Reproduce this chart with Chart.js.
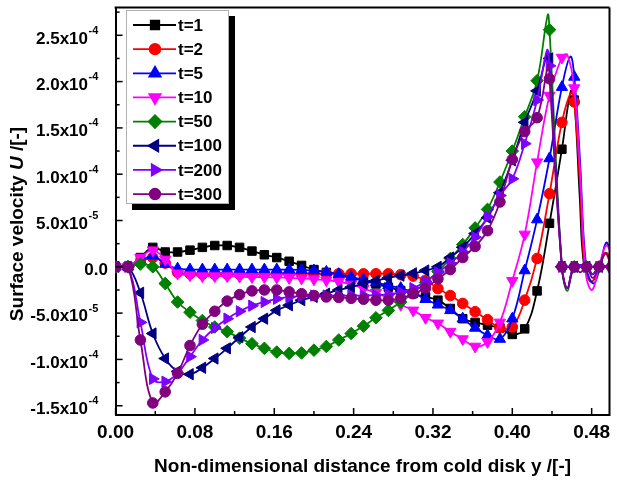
<!DOCTYPE html>
<html>
<head>
<meta charset="utf-8">
<script src="https://cdn.jsdelivr.net/npm/chart.js@4/dist/chart.umd.min.js"></script>
<style>
  html, body { margin: 0; padding: 0; background: #fff; }
  #wrap { width: 617px; height: 482px; position: relative; }
</style>
</head>
<body>
<div id="wrap"><canvas id="canvas"></canvas></div>
<script>
// values are in units of 1e-5
const UNIT = 1e-5;

// x positions of the plotted (marked) samples:
const xGrid = [0, 0.0125, 0.025, 0.0375, 0.05, 0.0625, 0.075, 0.0875, 0.1, 0.1125,
  0.125, 0.1375, 0.15, 0.1625, 0.175, 0.1875, 0.2, 0.2125, 0.225, 0.2375,
  0.25, 0.2625, 0.275, 0.2875, 0.3, 0.3125, 0.325, 0.3375, 0.35, 0.3625,
  0.375, 0.3875, 0.4, 0.4125, 0.425, 0.4375, 0.45, 0.4625, 0.475, 0.4875, 0.5];

// marked samples:
const t1 = [0, 0, 1.0, 2.1, 1.6, 1.6, 1.8, 2.1, 2.3, 2.3, 2.1, 1.7, 1.3, 1.0, 0.6,
  0.15, -0.3, -0.6, -0.9, -1.2, -1.5, -1.85, -2.2, -2.55, -2.9, -3.25, -3.6, -4.5,
  -5.6, -6.0, -6.3, -6.6, -7.3, -6.7, -2.6, 4.7, 12.7, 18.0];
const t2 = [0, 0, 0.5, 1.0, 0.4, -0.6, -0.75, -0.8, -0.8, -0.8, -0.8, -0.8, -0.8, -0.8,
  -0.75, -0.75, -0.75, -0.75, -0.75, -0.75, -0.75, -0.75, -0.75, -0.85, -1.0, -1.45,
  -2.35, -3.1, -3.95, -4.85, -5.7, -6.6, -6.5, -3.6, 0.9, 7.9, 15.6, 17.8];
const t5 = [0, 0, 0.6, 1.2, 0.3, -0.2, -0.3, -0.3, -0.3, -0.3, -0.3, -0.3, -0.3, -0.3,
  -0.3, -0.35, -0.4, -0.55, -0.8, -1.1, -1.4, -1.7, -2.0, -2.3, -2.8, -3.5, -4.1,
  -4.7, -5.6, -6.6, -7.4, -7.8, -5.6, -0.4, 5.1, 11.7, 19.4, 20.5];
const t10 = [0, 0, 1.0, 1.8, 0.8, -0.7, -0.9, -1.0, -1.0, -1.0, -1.05, -1.1, -1.1, -1.15,
  -1.2, -1.25, -1.35, -1.45, -1.6, -1.9, -2.35, -2.8, -3.4, -4.1, -4.7, -5.5, -6.1,
  -7.0, -7.8, -8.6, -8.1, -6.0, -1.5, 3.5, 11.3, 18.5, 22.6, 19.3];
const t50 = [0, 0, 0.3, 0.0, -1.8, -3.8, -4.9, -5.8, -6.5, -7.0, -7.7, -8.3, -8.8, -9.2,
  -9.35, -9.3, -9.0, -8.6, -7.9, -7.2, -6.4, -5.5, -4.7, -3.8, -2.8, -1.7, -0.5, 0.9,
  2.4, 4.2, 6.2, 9.15, 12.5, 16.2, 20.1, 25.6, 0, 0, 0, 0, 0];
const t100 = [0, 0, -2.8, -7.2, -9.9, -11.3, -11.6, -10.9, -9.9, -8.8, -7.6, -6.5, -5.6,
  -4.7, -4.15, -3.6, -3.25, -2.9, -2.5, -2.2, -1.8, -1.5, -1.2, -0.95, -0.7, -0.4, 0.0,
  1.0, 2.1, 3.6, 5.3, 8.0, 11.5, 15.6, 19.0, 22.5, 0, 0, 0, 0, 0];
const t200 = [0, 0, -6.0, -12.1, -12.4, -11.5, -9.7, -7.9, -6.6, -5.6, -4.8, -4.2, -3.8,
  -3.45, -3.25, -3.15, -3.1, -3.1, -3.1, -3.1, -3.1, -3.05, -2.95, -2.75, -2.3, -1.6,
  -0.6, 0.4, 1.6, 3.2, 5.4, 7.7, 9.5, 13.3, 18.0, 21.7, 0, 0, 0, 0, 0];
const t300 = [0, 0, -7.9, -14.7, -13.5, -11.5, -8.5, -6.2, -4.8, -3.7, -3.0, -2.6, -2.5,
  -2.5, -2.7, -2.9, -3.1, -3.25, -3.3, -3.4, -3.5, -3.6, -3.6, -3.4, -2.9, -2.3, -1.3,
  -0.3, 1.0, 2.2, 3.9, 7.0, 11.6, 14.6, 16.1, 20.3, 0, 0, 0, 0, 0];

// unmarked points of the curves (peaks and wiggles near the hot end), [x, value]:
const t1Tail = [[0.459, 19.0], [0.468, 7.5], [0.4725, 0], [0.48, -1.6], [0.4875, 0], [0.4945, 1.5], [0.5, 0.5]];
const t2Tail = [[0.4592, 18.8], [0.4685, 8.5], [0.473, 0], [0.48, -1.6], [0.4875, 0], [0.4945, 1.5], [0.5, 0.5]];
const t5Tail = [[0.4585, 22.7], [0.468, 12], [0.4745, 0], [0.482, -1.8], [0.4885, 0], [0.4945, 2.6], [0.5, 1.5]];
const t10Tail = [[0.4555, 22.9], [0.468, 11], [0.4745, -1.0], [0.4805, -2.5], [0.4875, 0], [0.4945, 2.3], [0.5, 1.5]];
const t50Tail = [[0.4357, 27.2], [0.4555, -2.6], [0.481, -0.8]];
const t100Tail = [[0.4358, 23.2], [0.4555, -2.3], [0.481, -0.8]];
const t200Tail = [[0.435, 23.4], [0.4555, -2.3], [0.481, -0.8]];
const t300Tail = [[0.4362, 21.8], [0.4555, -2.3], [0.4685, -0.6], [0.481, -1.2], [0.4935, 1.5]];

const labels = ['t=1', 't=2', 't=5', 't=10', 't=50', 't=100', 't=200', 't=300'];

// tick labels:
const xTicks = [0, 0.08, 0.16, 0.24, 0.32, 0.40, 0.48];
const xMinor = [0.04, 0.12, 0.20, 0.28, 0.36, 0.44];
const yTicks = [-1.5e-4, -1.0e-4, -5.0e-5, 0, 5.0e-5, 1.0e-4, 1.5e-4, 2.0e-4, 2.5e-4];
const yTickText = ['-1.5', '-1.0', '-5.0', '0.0', '5.0', '1.0', '1.5', '2.0', '2.5'];
const yTickExp = ['-4', '-4', '-5', '', '-5', '-4', '-4', '-4', '-4'];
const yMinor = [-1.25e-4, -7.5e-5, -2.5e-5, 2.5e-5, 7.5e-5, 1.25e-4, 1.75e-4, 2.25e-4, 2.75e-4];

// styles
const colors = ['#000000', '#ff0000', '#0000ff', '#ff00ff', '#008000', '#000080', '#8000ff', '#800080'];
const styles = ['rect', 'circle', 'triangle', 'triangle', 'rectRot', 'triangle', 'triangle', 'circle'];
const rotations = [0, 0, 0, 180, 0, 270, 90, 0];
const radii = [6, 5.3, 6.5, 6.5, 6.3, 6.5, 6.5, 5.3];

const FONT = "'Liberation Sans', Arial, sans-serif";

function buildSeries(vals, tail) {
  let pts = vals.map((v, i) => ({ x: xGrid[i], y: v * UNIT, m: true }));
  for (let p of tail) {
    pts.push({ x: p[0], y: p[1] * UNIT, m: false });
  }
  pts.sort((a, b) => a.x - b.x);
  return pts;
}

const allVals = [t1, t2, t5, t10, t50, t100, t200, t300];
const allTails = [t1Tail, t2Tail, t5Tail, t10Tail, t50Tail, t100Tail, t200Tail, t300Tail];

const datasets = labels.map((lab, i) => ({
  label: lab,
  data: buildSeries(allVals[i], allTails[i]),
  borderColor: colors[i],
  backgroundColor: colors[i],
  borderWidth: 1.8,
  tension: 0.4,
  pointStyle: styles[i],
  rotation: rotations[i],
  pointRadius: (c) => (c.raw && c.raw.m ? radii[i] : 0),
  pointHoverRadius: 0,
  pointBorderWidth: 1,
  order: labels.length - 1 - i
}));

function line(ctx, x1, y1, x2, y2) {
  ctx.beginPath();
  ctx.moveTo(x1, y1);
  ctx.lineTo(x2, y2);
  ctx.stroke();
}

// frame, inward ticks, y labels with exponents, y title, legend:
const decor = {
  id: 'decor',
  afterDraw(chart) {
    const ctx = chart.ctx;
    const a = chart.chartArea;
    const xs = chart.scales.x, ys = chart.scales.y;
    ctx.save();
    ctx.strokeStyle = '#000';
    // top and right border:
    ctx.lineWidth = 2;
    line(ctx, a.left - 1, a.top, a.right, a.top);
    line(ctx, a.right, a.top, a.right, a.bottom + 1);
    // ticks:
    ctx.lineWidth = 1.5;
    for (let v of xTicks) { let px = xs.getPixelForValue(v); line(ctx, px, a.bottom, px, a.bottom - 7); }
    for (let v of xMinor) { let px = xs.getPixelForValue(v); line(ctx, px, a.bottom, px, a.bottom - 4); }
    for (let v of yTicks) { let py = ys.getPixelForValue(v); line(ctx, a.left, py, a.left + 7, py); }
    for (let v of yMinor) { let py = ys.getPixelForValue(v); line(ctx, a.left, py, a.left + 4, py); }

    // y tick labels:
    ctx.fillStyle = '#000';
    ctx.textBaseline = 'alphabetic';
    yTicks.forEach((v, i) => {
      let py = ys.getPixelForValue(v);
      if (yTickExp[i] === '') {
        ctx.font = 'bold 17px ' + FONT;
        ctx.textAlign = 'right';
        ctx.fillText(yTickText[i], 108, py + 8.3);
      } else {
        ctx.font = 'bold 17px ' + FONT;
        ctx.textAlign = 'right';
        ctx.fillText(yTickText[i] + 'x10', 88, py + 8.3);
        ctx.font = 'bold 11px ' + FONT;
        ctx.textAlign = 'left';
        ctx.fillText(yTickExp[i], 88.5, py - 1.5);
      }
    });

    // y title with italic U:
    ctx.save();
    ctx.translate(18, 224);
    ctx.rotate(-Math.PI / 2);
    ctx.textBaseline = 'middle';
    ctx.textAlign = 'left';
    const parts = [['Surface velocity ', 'bold'], ['U', 'italic bold'], [' /[-]', 'bold']];
    let total = 0;
    for (let p of parts) { ctx.font = p[1] + ' 19px ' + FONT; total += ctx.measureText(p[0]).width; }
    let cx = -total / 2;
    for (let p of parts) {
      ctx.font = p[1] + ' 19px ' + FONT;
      ctx.fillText(p[0], cx, 0);
      cx += ctx.measureText(p[0]).width;
    }
    ctx.restore();

    // legend box with shadow:
    const lx = 126, ly = 10, lw = 103, lh = 194;
    ctx.fillStyle = '#000';
    ctx.fillRect(lx + 6, ly + 6, lw, lh);
    ctx.fillStyle = '#fff';
    ctx.fillRect(lx, ly, lw, lh);
    ctx.strokeStyle = '#b0b0b0';
    ctx.lineWidth = 1;
    ctx.strokeRect(lx + 0.5, ly + 0.5, lw - 1, lh - 1);
    labels.forEach((lab, i) => {
      let cy = 25 + i * 24.15;
      ctx.strokeStyle = colors[i];
      ctx.fillStyle = colors[i];
      ctx.lineWidth = 1.8;
      line(ctx, 133, cy, 176, cy);
      Chart.helpers.drawPoint(ctx, {
        pointStyle: styles[i], radius: radii[i], rotation: rotations[i], borderWidth: 1
      }, 155, cy);
      ctx.fillStyle = '#000';
      ctx.font = 'bold 17px ' + FONT;
      ctx.textAlign = 'left';
      ctx.textBaseline = 'middle';
      ctx.fillText(lab, 178, cy + 1);
    });
    ctx.restore();
  }
};

const config = {
  type: 'line',
  data: { datasets: datasets },
  options: {
    responsive: true,
    maintainAspectRatio: false,
    devicePixelRatio: 1,
    animation: false,
    layout: { padding: { top: 7, right: 3, left: 0, bottom: 0 } },
    plugins: {
      legend: { display: false },
      tooltip: { enabled: false }
    },
    scales: {
      x: {
        type: 'linear',
        min: 0,
        max: 0.498,
        afterBuildTicks: (s) => { s.ticks = xTicks.map(v => ({ value: v })); },
        afterFit: (s) => { s.height = 67; },
        ticks: {
          color: '#000',
          padding: 6,
          maxRotation: 0,
          font: { family: FONT, size: 19, weight: 'bold' },
          callback: (v) => v.toFixed(2)
        },
        grid: { display: true, drawOnChartArea: false, drawTicks: false },
        border: { display: true, color: '#000', width: 2 },
        title: {
          display: true,
          text: 'Non-dimensional distance from cold disk y /[-]',
          color: '#000',
          font: { family: FONT, size: 19, weight: 'bold' },
          padding: { top: 4, bottom: 4 }
        }
      },
      y: {
        type: 'linear',
        min: -1.6e-4,
        max: 2.8e-4,
        afterFit: (s) => { s.width = 115.6; },
        ticks: { display: false },
        grid: { display: true, drawOnChartArea: false, drawTicks: false },
        border: { display: true, color: '#000', width: 2 }
      }
    }
  },
  plugins: [decor]
};

function setup() {
  const ctx = document.getElementById('canvas').getContext('2d');
  new Chart(ctx, config);
}

document.addEventListener('DOMContentLoaded', setup);
</script>
</body>
</html>
